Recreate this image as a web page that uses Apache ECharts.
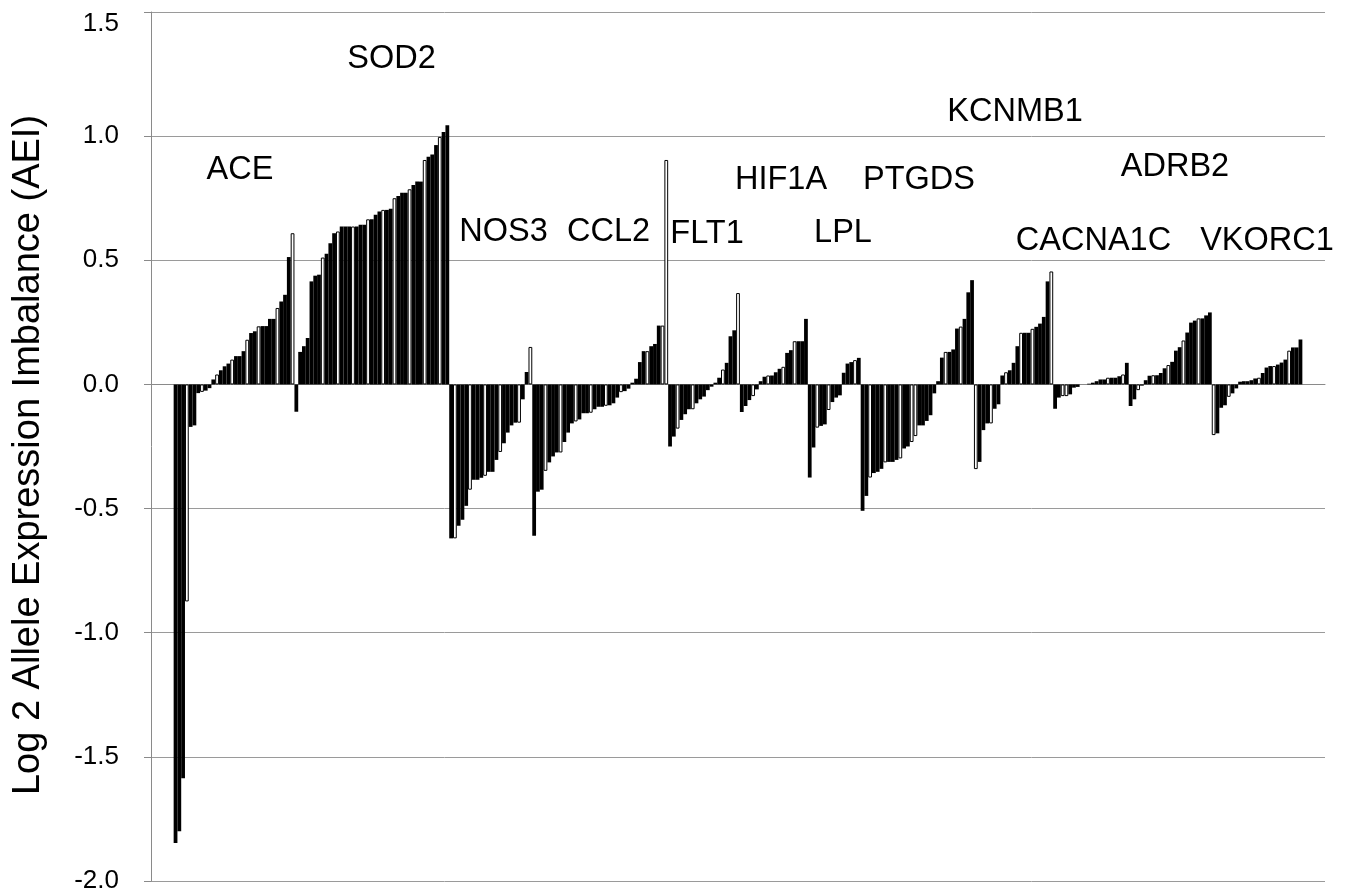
<!DOCTYPE html>
<html>
<head>
<meta charset="utf-8">
<script src="https://cdn.jsdelivr.net/npm/echarts@6/dist/echarts.min.js"></script>
<style>
  html, body { margin: 0; padding: 0; background: #fff; }
  #chart { width: 1351px; height: 894px; }
</style>
</head>
<body>
<div id="chart"></div>
<script>
// Log2 allele expression imbalance per sample, sorted within each gene.
const geneNames = ['ACE', 'SOD2', 'NOS3', 'CCL2', 'FLT1', 'HIF1A', 'LPL', 'PTGDS', 'KCNMB1', 'CACNA1C', 'ADRB2', 'VKORC1'];

const ACE = [-1.847, -1.80, -1.586, -0.874, -0.171, -0.165, -0.035, -0.03, -0.025, -0.015,
  0.02, 0.04, 0.057, 0.073, 0.084, 0.10, 0.114, 0.114, 0.134, 0.18, 0.207, 0.214, 0.234,
  0.235, 0.235, 0.264, 0.264, 0.308, 0.334, 0.361, 0.513, 0.609];
const SOD2 = [-0.11, 0.131, 0.154, 0.187, 0.415, 0.438, 0.442, 0.511, 0.526, 0.569, 0.609,
  0.616, 0.636, 0.636, 0.636, 0.636, 0.636, 0.643, 0.643, 0.665, 0.665, 0.683, 0.696, 0.703,
  0.703, 0.708, 0.75, 0.759, 0.772, 0.772, 0.786, 0.803, 0.817, 0.817, 0.904, 0.917, 0.926,
  0.964, 0.997, 1.017, 1.044];
const NOS3 = [-0.62, -0.62, -0.569, -0.545, -0.489, -0.424, -0.384, -0.384, -0.376, -0.368,
  -0.352, -0.352, -0.304, -0.272, -0.237, -0.194, -0.165, -0.154, -0.154, -0.06, 0.05, 0.151];
const CCL2 = [-0.609, -0.432, -0.424, -0.348, -0.314, -0.29, -0.274, -0.274, -0.232, -0.194,
  -0.157, -0.149, -0.141, -0.116, -0.116, -0.114, -0.1, -0.09, -0.09, -0.086, -0.084, -0.076,
  -0.053, -0.031, -0.027, -0.017, 0.007, 0.023, 0.09, 0.134, 0.134, 0.154, 0.163, 0.237,
  0.237, 0.904];
const FLT1 = [-0.25, -0.21, -0.178, -0.143, -0.12, -0.1, -0.1, -0.076, -0.06, -0.049, -0.023,
  -0.009, 0.007, 0.027, 0.06, 0.087, 0.194, 0.218, 0.368];
const HIF1A = [-0.111, -0.087, -0.063, -0.047, -0.02, 0.013, 0.031, 0.036, 0.036, 0.049, 0.063,
  0.071, 0.127, 0.138, 0.174, 0.174, 0.174, 0.264];
const LPL = [-0.375, -0.254, -0.174, -0.167, -0.161, -0.103, -0.071, -0.053, -0.044, 0.047,
  0.084, 0.09, 0.098, 0.107];
const PTGDS = [-0.509, -0.449, -0.375, -0.357, -0.352, -0.34, -0.314, -0.312, -0.312, -0.304,
  -0.298, -0.258, -0.25, -0.232, -0.208, -0.165, -0.165, -0.147, -0.124, -0.036, 0.013, 0.108,
  0.131, 0.131, 0.141, 0.225, 0.233, 0.264, 0.371, 0.42];
const KCNMB1 = [-0.341, -0.312, -0.184, -0.157, -0.157, -0.098, -0.08, 0.036, 0.049, 0.057,
  0.087, 0.154, 0.208, 0.208, 0.208, 0.224, 0.232, 0.245, 0.272, 0.415, 0.455];
const CACNA1C = [-0.098, -0.053, -0.047, -0.047, -0.04, -0.013, -0.01, 0, 0, 0.003, 0.007,
  0.013, 0.02, 0.02, 0.027, 0.027, 0.027, 0.033, 0.04, 0.087];
const ADRB2 = [-0.087, -0.06, -0.023, -0.005, 0.017, 0.035, 0.037, 0.037, 0.046, 0.065, 0.078,
  0.091, 0.136, 0.15, 0.177, 0.209, 0.249, 0.257, 0.266, 0.266, 0.278, 0.29];
const VKORC1 = [-0.204, -0.197, -0.094, -0.084, -0.05, -0.036, -0.016, 0.011, 0.013, 0.013,
  0.017, 0.024, 0.027, 0.046, 0.068, 0.074, 0.074, 0.08, 0.088, 0.1, 0.136, 0.149, 0.149, 0.181];

// Positions (within each gene) of the samples drawn as open bars.
const openACE = [3, 7, 11, 15, 19, 22, 27, 31];
const openSOD2 = [7, 11, 15, 19, 23, 26, 30, 34, 38];
const openNOS3 = [1, 5, 9, 13, 18, 21];
const openCCL2 = [3, 7, 11, 15, 19, 23, 30, 34, 35];
const openFLT1 = [2, 6, 14, 18];
const openHIF1A = [3, 7, 11, 14];
const openLPL = [2, 5, 12];
const openPTGDS = [2, 6, 10, 13, 14, 22, 26];
const openKCNMB1 = [0, 4, 8, 12, 15, 20];
const openCACNA1C = [2, 3, 14, 18];
const openADRB2 = [2, 6, 10, 14, 18];
const openVKORC1 = [0, 4, 12, 16, 20];

const yTickLabels = ['-2.0', '-1.5', '-1.0', '-0.5', '0.0', '0.5', '1.0', '1.5'];
const yTitle = 'Log 2 Allele Expression Imbalance (AEI)';

const geneValues = [ACE, SOD2, NOS3, CCL2, FLT1, HIF1A, LPL, PTGDS, KCNMB1, CACNA1C, ADRB2, VKORC1];
const geneOpen = [openACE, openSOD2, openNOS3, openCCL2, openFLT1, openHIF1A, openLPL,
  openPTGDS, openKCNMB1, openCACNA1C, openADRB2, openVKORC1];

// Empty category slots before the first and after the last bar.
const padBefore = 6, padAfter = 6;

const openStyle = { color: '#ffffff', borderColor: '#000000', borderWidth: 1 };
const categories = [];
const barData = [];
for (let i = 0; i < padBefore; i++) { categories.push('start ' + i); barData.push('-'); }
geneNames.forEach((name, g) => {
  geneValues[g].forEach((v, i) => {
    categories.push(name + ' ' + (i + 1));
    barData.push(geneOpen[g].includes(i) ? { value: v, itemStyle: openStyle } : v);
  });
});
for (let i = 0; i < padAfter; i++) { categories.push('end ' + i); barData.push('-'); }

const FONT = '"Liberation Sans", Arial, Helvetica, sans-serif';

// Gene name annotations above the bar groups.
const geneLabelPos = [
  [240, 170], [391.5, 59], [503.5, 232.5], [608.5, 232.5], [707, 234], [781, 180],
  [843, 233], [919, 180], [1015, 112], [1093.5, 241], [1175, 167], [1267, 241]
];
const labelGraphics = geneNames.map((name, i) => ({
  type: 'text',
  x: geneLabelPos[i][0],
  y: geneLabelPos[i][1],
  silent: true,
  style: {
    text: name,
    fill: '#000',
    fontSize: 32.5,
    fontFamily: FONT,
    align: 'center',
    verticalAlign: 'middle',
    textAlign: 'center',
    textVerticalAlign: 'middle'
  }
}));

const tickFont = { fontSize: 26, fontFamily: FONT, color: '#000' };

const chart = echarts.init(document.getElementById('chart'), null, { renderer: 'canvas' });
chart.setOption({
  animation: false,
  backgroundColor: '#ffffff',
  grid: { left: 151, right: 26, top: 12, bottom: 10, containLabel: false },
  xAxis: {
    type: 'category',
    data: categories,
    boundaryGap: true,
    axisLine: { show: true, onZero: true, lineStyle: { color: '#8a8a8a', width: 1 } },
    axisTick: { show: false },
    axisLabel: { show: false },
    splitLine: { show: false }
  },
  yAxis: {
    type: 'value',
    min: -2,
    max: 1.5,
    interval: 0.5,
    name: yTitle,
    nameLocation: 'middle',
    nameRotate: 90,
    nameGap: 103,
    nameTextStyle: { fontSize: 38, fontFamily: FONT, color: '#000', padding: [0, 17, 0, 0] },
    axisLine: { show: true, lineStyle: { color: '#8a8a8a', width: 1 } },
    axisTick: { show: true, inside: false, length: 7, lineStyle: { color: '#8a8a8a' } },
    axisLabel: Object.assign({
      margin: 32,
      formatter: v => {
        const t = yTickLabels[Math.round((v + 2) / 0.5)];
        // the topmost label sits a little below its gridline
        return v >= 1.5 ? '{top|' + t + '}' : t;
      },
      rich: { top: Object.assign({ padding: [24, 0, 0, 0] }, tickFont) }
    }, tickFont),
    splitLine: { show: true, lineStyle: { color: '#9a9a9a', width: 1 } }
  },
  series: [{
    type: 'bar',
    data: barData,
    barCategoryGap: '0%',
    barGap: '0%',
    silent: true,
    itemStyle: { color: '#000000', borderWidth: 0 }
  }],
  graphic: labelGraphics
});
</script>
</body>
</html>
